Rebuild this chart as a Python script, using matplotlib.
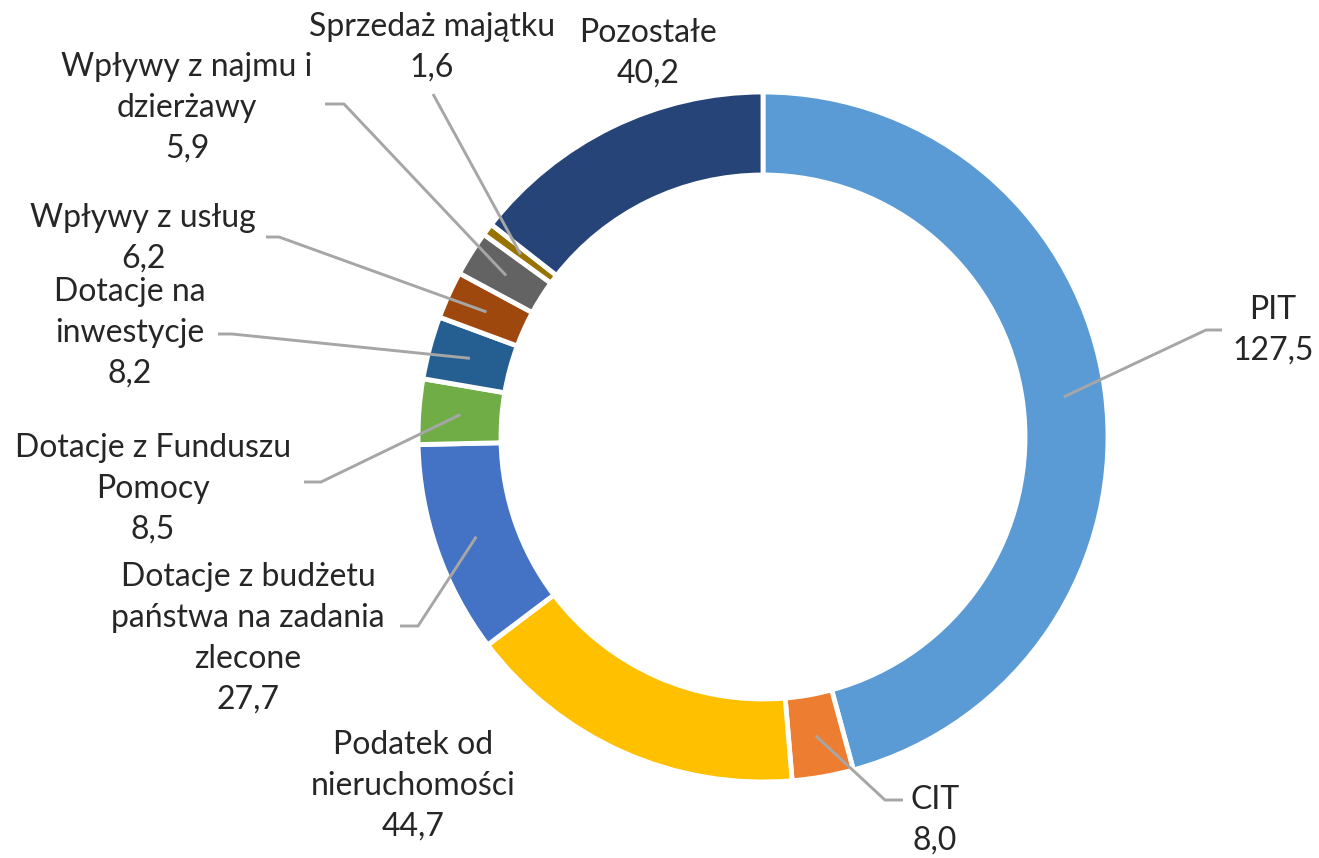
import matplotlib.pyplot as plt
import numpy as np

# data
labels = ['PIT', 'CIT', 'Podatek od\nnieruchomości',
          'Dotacje z budżetu\npaństwa na zadania\nzlecone',
          'Dotacje z Funduszu\nPomocy', 'Dotacje na\ninwestycje',
          'Wpływy z usług', 'Wpływy z najmu i\ndzierżawy',
          'Sprzedaż majątku', 'Pozostałe']
values = [127.5, 8.0, 44.7, 27.7, 8.5, 8.2, 6.2, 5.9, 1.6, 40.2]
colors = ['#5B9BD5', '#ED7D31', '#FFC000', '#4472C4', '#70AD47',
          '#255E91', '#9E480E', '#636363', '#997300', '#264478']

W, H = 1319, 858

def Y(py):
    return H - py

# label layout in pixels: (center x, first line y), leader elbow points or None
label_pos = [(1273, 310), (935, 800), (413, 745), (248, 577), (153, 448),
             (130, 292), (143, 218), (187, 67), (432, 27), (648, 33)]
leaders = [[(1222, 330), (1206, 330)],
           [(903, 800), (885, 800)],
           None,
           [(400, 626), (418, 626)],
           [(304, 482), (321, 482)],
           [(218, 334), (232, 334)],
           [(266, 237), (279, 237)],
           [(325, 104), (344, 104)],
           [(433, 94)],
           None]

fig = plt.figure(figsize=(W / 100, H / 100), dpi=100)
ax = fig.add_axes([0, 0, 1, 1])

cx, cy = 763, Y(437)
R, width = 345, 83
wedges, _ = ax.pie(values, colors=colors, startangle=90, counterclock=False,
                   radius=R, center=(cx, cy),
                   wedgeprops=dict(width=width, edgecolor='white', linewidth=3.5))

r_mid = R - width / 2
for w, lab, val, (lx, ly), lead in zip(wedges, labels, values, label_pos, leaders):
    if lead is not None:
        ang = np.deg2rad((w.theta1 + w.theta2) / 2)
        ax_, ay_ = cx + r_mid * np.cos(ang), cy + r_mid * np.sin(ang)
        xs = [p[0] for p in lead] + [ax_]
        ys = [Y(p[1]) for p in lead] + [ay_]
        ax.plot(xs, ys, color='#A6A6A6', lw=2.1, solid_capstyle='butt', zorder=3)
    lines = lab.split('\n') + [f'{val:.1f}'.replace('.', ',')]
    for i, t in enumerate(lines):
        ax.text(lx, Y(ly + 41 * i), t, ha='center', va='center',
                fontsize=23, family='Lato', color='#262626')

ax.set_xlim(0, W)
ax.set_ylim(0, H)
ax.set_aspect('equal')
ax.axis('off')

plt.savefig('out.png', dpi=100)
